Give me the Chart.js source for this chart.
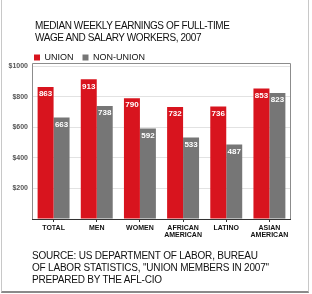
<!DOCTYPE html>
<html>
<head>
<meta charset="utf-8">
<script src="https://cdn.jsdelivr.net/npm/chart.js@4"></script>
<style>
  html, body { margin: 0; padding: 0; background: #fff; }
  #wrap { position: relative; width: 312px; height: 294px; overflow: hidden; }
  #frame { position: absolute; left: 1px; top: -2px; width: 308px; height: 295px;
           border-left: 1px solid #c8c8c8; border-right: 1px solid #c8c8c8; border-bottom: 2px solid #8a8a8a; box-sizing: border-box; }
  canvas { position: absolute; left: 0; top: 0; }
  .txt { position: absolute; font-family: "Liberation Sans", Arial, sans-serif; color: #111; white-space: nowrap; }
  #title { left: 35px; top: 20px; font-size: 10px; line-height: 12px; letter-spacing: -0.4px; }
  #source { left: 32px; top: 250px; font-size: 10px; line-height: 12px; letter-spacing: -0.2px; }
</style>
</head>
<body>
<div id="wrap">
  <div id="frame"></div>
  <canvas id="earnings" width="312" height="294"></canvas>
  <div class="txt" id="title">MEDIAN WEEKLY EARNINGS OF FULL-TIME<br>WAGE AND SALARY WORKERS, 2007</div>
  <div class="txt" id="source">SOURCE: US DEPARTMENT OF LABOR, BUREAU<br>OF LABOR STATISTICS, "UNION MEMBERS IN 2007"<br>PREPARED BY THE AFL-CIO</div>
</div>
<script>
const categories = [['TOTAL'], ['MEN'], ['WOMEN'], ['AFRICAN', 'AMERICAN'], ['LATINO'], ['ASIAN', 'AMERICAN']];
const unionValues = [863, 913, 790, 732, 736, 853];
const nonUnionValues = [663, 738, 592, 533, 487, 823];
const yTicks = [0, 200, 400, 600, 800, 1000];

// white numbers at the top of each bar
const barLabels = {
  id: 'barLabels',
  afterDatasetsDraw(chart) {
    const ctx = chart.ctx;
    ctx.save();
    ctx.fillStyle = '#fff';
    ctx.font = 'bold 8px "Liberation Sans", Arial, sans-serif';
    ctx.textAlign = 'center';
    ctx.textBaseline = 'top';
    chart.data.datasets.forEach((ds, i) => {
      chart.getDatasetMeta(i).data.forEach((bar, j) => {
        ctx.fillText(ds.data[j], bar.x, bar.y + 3);
      });
    });
    ctx.restore();
  }
};

// grey frame around the plot area, and legend nudged into place
const plotFrame = {
  id: 'plotFrame',
  beforeDraw(chart) {
    chart.legend.left = 25;
    chart.legend.top += 6;
  },
  afterDraw(chart) {
    const a = chart.chartArea, ctx = chart.ctx;
    ctx.save();
    ctx.strokeStyle = '#8c8c8c';
    ctx.lineWidth = 1;
    ctx.beginPath();
    ctx.moveTo(a.left + 0.5, a.bottom);
    ctx.lineTo(a.left + 0.5, a.top - 2.5);
    ctx.lineTo(a.right - 0.5, a.top - 2.5);
    ctx.lineTo(a.right - 0.5, a.bottom);
    ctx.stroke();
    ctx.strokeStyle = '#333';
    ctx.beginPath();
    ctx.moveTo(a.left, a.bottom + 0.5);
    ctx.lineTo(a.right, a.bottom + 0.5);
    ctx.stroke();
    ctx.restore();
  }
};

new Chart(document.getElementById('earnings').getContext('2d'), {
  type: 'bar',
  data: {
    labels: categories,
    datasets: [{
      label: 'UNION',
      data: unionValues,
      backgroundColor: '#d8141e',
      categoryPercentage: 0.74,
      barPercentage: 1.0
    }, {
      label: 'NON-UNION',
      data: nonUnionValues,
      backgroundColor: '#767676',
      categoryPercentage: 0.74,
      barPercentage: 1.0
    }]
  },
  options: {
    responsive: false,
    animation: false,
    layout: { padding: { left: 0, right: 21, top: 38, bottom: 49 } },
    plugins: {
      legend: {
        align: 'start',
        labels: {
          boxWidth: 6,
          boxHeight: 6,
          padding: 9,
          color: '#111',
          font: { family: '"Liberation Sans", Arial, sans-serif', size: 9 }
        }
      },
      tooltip: { enabled: false }
    },
    scales: {
      y: {
        min: 0,
        max: 1000,
        afterFit(scale) { scale.width = 32; },
        afterBuildTicks(scale) { scale.ticks = yTicks.map(v => ({ value: v })); },
        border: { display: false },
        grid: { color: '#e2e2e2', drawTicks: false },
        ticks: {
          padding: 4,
          color: '#555',
          font: { family: '"Liberation Sans", Arial, sans-serif', size: 7, weight: 'bold' },
          callback: v => v === 0 ? '' : '$' + v
        }
      },
      x: {
        afterFit(scale) { scale.height = 26; },
        border: { display: false },
        grid: { display: true, drawOnChartArea: false, offset: false, tickLength: 3, color: '#333' },
        ticks: {
          padding: 2,
          color: '#111',
          maxRotation: 0,
          autoSkip: false,
          font: { family: '"Liberation Sans", Arial, sans-serif', size: 7, weight: 'bold', lineHeight: 1.1 }
        }
      }
    }
  },
  plugins: [barLabels, plotFrame]
});
</script>
</body>
</html>
